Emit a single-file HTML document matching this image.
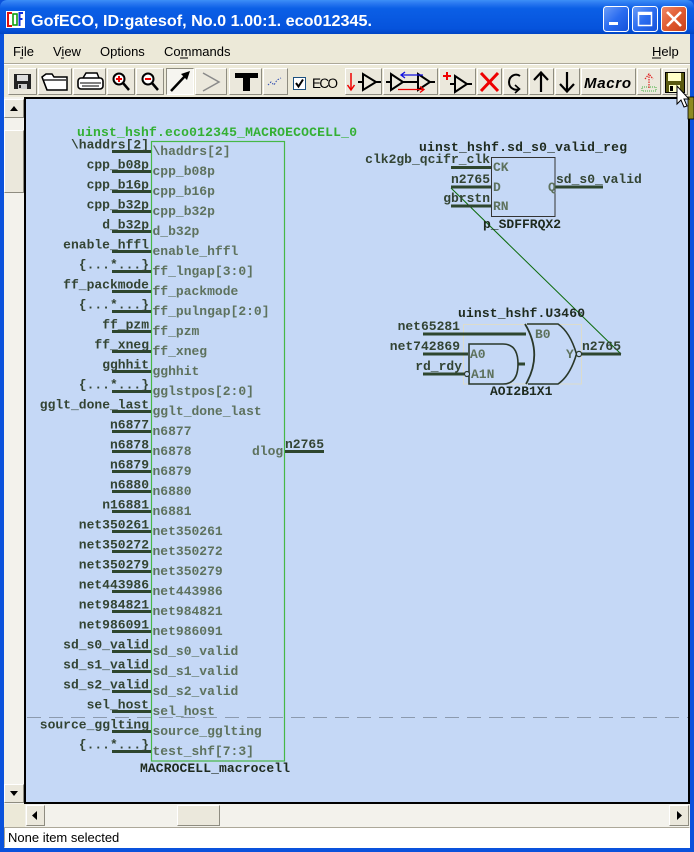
<!DOCTYPE html>
<html><head><meta charset="utf-8"><title>GofECO</title>
<style>
html,body{margin:0;padding:0;background:#ece9d8;}
svg{display:block;}
.mono{font-family:"Liberation Mono","DejaVu Sans Mono",monospace;font-weight:bold;font-size:13px;}
.out{fill:#334433;}
.in{fill:#5e725e;}
.ui{font-family:"Liberation Sans","DejaVu Sans",sans-serif;}
</style></head>
<body>
<svg width="694" height="852" viewBox="0 0 694 852" xmlns="http://www.w3.org/2000/svg">
<defs>
<linearGradient id="tb" x1="0" y1="0" x2="0" y2="1">
<stop offset="0" stop-color="#3d8ff7"/><stop offset="0.1" stop-color="#2a78f0"/><stop offset="0.25" stop-color="#0b5fe6"/><stop offset="0.85" stop-color="#0653dc"/><stop offset="1" stop-color="#0044c4"/>
</linearGradient>
<linearGradient id="bb" x1="0" y1="0" x2="1" y2="1">
<stop offset="0" stop-color="#6d9ff8"/><stop offset="0.5" stop-color="#2a6cf0"/><stop offset="1" stop-color="#1450d8"/>
</linearGradient>
<linearGradient id="rb" x1="0" y1="0" x2="1" y2="1">
<stop offset="0" stop-color="#f08a6a"/><stop offset="0.5" stop-color="#e05a30"/><stop offset="1" stop-color="#c8401c"/>
</linearGradient>
</defs>

<!-- window frame -->
<rect x="0" y="0" width="694" height="852" fill="#0a52dc"/>
<rect x="4" y="34" width="686" height="814" fill="#ece9d8"/>
<!-- title bar -->
<path d="M0,8 Q0,0 8,0 H686 Q694,0 694,8 V34 H0 Z" fill="url(#tb)"/>
<!-- app icon -->
<rect x="6" y="11" width="19" height="17" fill="#fff"/>
<path d="M12,13 H8 V26 H12" stroke="#e01010" stroke-width="2" fill="none"/>
<rect x="13" y="14" width="4" height="11" fill="none" stroke="#10a010" stroke-width="1.6"/>
<path d="M23,13 H19.5 V26 M19.5,19 H22.5" stroke="#1030e0" stroke-width="2" fill="none"/>
<text x="31" y="26" class="ui" font-size="15.5" font-weight="bold" fill="#fff" textLength="341" lengthAdjust="spacingAndGlyphs">GofECO, ID:gatesof, No.0 1.00:1. eco012345.</text>
<!-- title buttons -->
<rect x="603.5" y="6.5" width="25" height="25" rx="3" fill="url(#bb)" stroke="#fff" stroke-width="1"/>
<rect x="609" y="22" width="9" height="3" fill="#fff"/>
<rect x="632.5" y="6.5" width="25" height="25" rx="3" fill="url(#bb)" stroke="#fff" stroke-width="1"/>
<rect x="638.5" y="12.5" width="13" height="13" fill="none" stroke="#fff" stroke-width="1.5"/>
<rect x="638" y="12" width="14" height="3" fill="#fff"/>
<rect x="661.5" y="6.5" width="25" height="25" rx="3" fill="url(#rb)" stroke="#fff" stroke-width="1"/>
<path d="M667,12 L681,26 M681,12 L667,26" stroke="#fff" stroke-width="2.6"/>

<!-- menu -->
<g class="ui" font-size="13" fill="#000">
<text x="13" y="56">File</text>
<text x="53" y="56">View</text>
<text x="100" y="56">Options</text>
<text x="164" y="56">Commands</text>
<text x="652" y="56">Help</text>
</g>
<path d="M20,58 H23 M61,58 H64 M180,58 H188 M652,58 H661" stroke="#000" stroke-width="1"/>
<path d="M4,63.5 H690" stroke="#aca899"/>
<path d="M4,64.5 H690" stroke="#fff"/>

<!-- toolbar buttons -->
<g>
<!-- generic bevel buttons -->
<g fill="#ebe8dc">
<rect x="8" y="68" width="29" height="27"/><rect x="38" y="68" width="34" height="27"/><rect x="73" y="68" width="33" height="27"/>
<rect x="107" y="68" width="28" height="27"/><rect x="136" y="68" width="28" height="27"/><rect x="195" y="68" width="32" height="27"/>
<rect x="229" y="68" width="33" height="27"/><rect x="263" y="68" width="25" height="27"/>
<rect x="345" y="68" width="37" height="27"/><rect x="383" y="68" width="55" height="27"/><rect x="439" y="68" width="37" height="27"/>
<rect x="477" y="68" width="25" height="27"/><rect x="503" y="68" width="25" height="27"/><rect x="529" y="68" width="25" height="27"/>
<rect x="555" y="68" width="25" height="27"/><rect x="581" y="68" width="55" height="27"/><rect x="637" y="68" width="24" height="27"/>
<rect x="662" y="68" width="26" height="27"/>
</g>
<rect x="166" y="68" width="28" height="27" fill="#f6f5f0"/>
<g fill="none" stroke="#fff" stroke-width="1">
<path d="M8.5,94.5 V68.5 H36.5 M38.5,94.5 V68.5 H71.5 M73.5,94.5 V68.5 H105.5 M107.5,94.5 V68.5 H134.5 M136.5,94.5 V68.5 H163.5 M195.5,94.5 V68.5 H226.5 M229.5,94.5 V68.5 H261.5 M263.5,94.5 V68.5 H287.5"/>
<path d="M345.5,94.5 V68.5 H381.5 M383.5,94.5 V68.5 H437.5 M439.5,94.5 V68.5 H475.5 M477.5,94.5 V68.5 H501.5 M503.5,94.5 V68.5 H527.5 M529.5,94.5 V68.5 H553.5 M555.5,94.5 V68.5 H579.5 M581.5,94.5 V68.5 H635.5 M637.5,94.5 V68.5 H660.5 M662.5,94.5 V68.5 H687.5"/>
<path d="M166.5,94.5 H193.5 V68.5" />
</g>
<g fill="none" stroke="#8e8c80" stroke-width="1">
<path d="M8.5,94.5 H36.5 V68.5 M38.5,94.5 H71.5 V68.5 M73.5,94.5 H105.5 V68.5 M107.5,94.5 H134.5 V68.5 M136.5,94.5 H163.5 V68.5 M195.5,94.5 H226.5 V68.5 M229.5,94.5 H261.5 V68.5 M263.5,94.5 H287.5 V68.5"/>
<path d="M345.5,94.5 H381.5 V68.5 M383.5,94.5 H437.5 V68.5 M439.5,94.5 H475.5 V68.5 M477.5,94.5 H501.5 V68.5 M503.5,94.5 H527.5 V68.5 M529.5,94.5 H553.5 V68.5 M555.5,94.5 H579.5 V68.5 M581.5,94.5 H635.5 V68.5 M637.5,94.5 H660.5 V68.5 M662.5,94.5 H687.5 V68.5"/>
<path d="M166.5,94.5 V68.5 H193.5"/>
</g>

<!-- icons -->
<!-- save -->
<rect x="14" y="74" width="17" height="15" fill="#222"/>
<rect x="17" y="75" width="11" height="6" fill="#ddd"/>
<rect x="18" y="84" width="9" height="5" fill="#ccc"/>
<rect x="19" y="85" width="2" height="3" fill="#222"/>
<!-- open -->
<path d="M42,77 L46,74 H52 L54,77 H67 V90 H47 Z" fill="#fff" stroke="#000" stroke-width="1.5"/>
<path d="M42,77 L47,90 M44,80 H66" stroke="#000" stroke-width="1.3" fill="none"/>
<!-- print -->
<path d="M83,78 L86,73 H97 L99,78" fill="#fff" stroke="#000" stroke-width="1.5"/>
<rect x="78" y="78" width="25" height="11" rx="3" fill="#fff" stroke="#000" stroke-width="1.6"/>
<path d="M80,83 H101 M82,86 H99" stroke="#000" stroke-width="1"/>
<!-- zoom in -->
<circle cx="119" cy="79" r="5.5" fill="#fff" stroke="#000" stroke-width="2"/>
<path d="M116,79 H122 M119,76 V82" stroke="#e00" stroke-width="2"/>
<path d="M123,83 L129,90" stroke="#000" stroke-width="2.5"/>
<!-- zoom out -->
<circle cx="148" cy="79" r="5.5" fill="#fff" stroke="#000" stroke-width="2"/>
<path d="M145,79 H151" stroke="#e00" stroke-width="2"/>
<path d="M152,83 L158,90" stroke="#000" stroke-width="2.5"/>
<!-- arrow -->
<path d="M171,91 L186,75" stroke="#000" stroke-width="2.5"/>
<path d="M190,71 L181,74 L187,80 Z" fill="#000"/>
<!-- > -->
<path d="M203,73 L219,82 L203,91" fill="none" stroke="#8a8a8a" stroke-width="1.5"/>
<!-- T -->
<rect x="235" y="73" width="23" height="5" fill="#000"/>
<rect x="243" y="73" width="7" height="18" fill="#000"/>
<!-- small dotted -->
<path d="M268,85 L271,82 L274,85 L277,80 L281,78" stroke="#2a4ab0" stroke-width="1" stroke-dasharray="1.5 1.5" fill="none"/>
<!-- checkbox -->
<rect x="293.5" y="77.5" width="12" height="12" fill="#fff" stroke="#1c5180"/>
<path d="M296,83 L298.5,86.5 L303,79.5" stroke="#000" stroke-width="2" fill="none"/>
<text x="312" y="88" class="ui" font-size="13.5" fill="#000" textLength="26">ECO</text>

<!-- right icon set -->
<path d="M351,73 V89" stroke="#e00" stroke-width="1.5"/>
<path d="M347.5,85 L351,90 L354.5,85" stroke="#e00" stroke-width="1.5" fill="none"/>
<path d="M358,82 H363 M363,74 V90 L376,82 Z M376,82 H381" stroke="#000" stroke-width="2" fill="none"/>

<path d="M386,82 H391 M391,74 V90 L403,82 Z M403,82 H418 M418,74 V90 L430,82 Z M430,82 H435" stroke="#000" stroke-width="2" fill="none"/>
<path d="M423,75 H401 M405,72 L401,75 L405,78" stroke="#1010e0" stroke-width="1.3" fill="none"/>
<path d="M398,89.5 H424 M420,86.5 L424,89.5 L420,92.5" stroke="#e00" stroke-width="1.3" fill="none"/>

<path d="M443,76 H451 M447,72 V80" stroke="#e00" stroke-width="2"/>
<path d="M450,84 H455 M455,76 V92 L467,84 Z M467,84 H472" stroke="#000" stroke-width="2" fill="none"/>

<path d="M481,73 L498,91 M498,73 L481,91" stroke="#ee0000" stroke-width="3"/>

<path d="M520,76 A7,7.5 0 1 0 519,89" stroke="#000" stroke-width="2" fill="none"/>
<path d="M515,85 L519.5,89 L515,93" stroke="#000" stroke-width="1.6" fill="none"/>

<path d="M541,73 V92 M534,80 L541,72.5 L548,80" stroke="#000" stroke-width="2.2" fill="none"/>
<path d="M567,72 V91 M560,84 L567,91.5 L574,84" stroke="#000" stroke-width="2.2" fill="none"/>

<text x="584" y="88" class="ui" font-size="15" font-weight="bold" font-style="italic" fill="#000" textLength="47">Macro</text>

<path d="M642,87 H656 V91 H642 Z" fill="none" stroke="#40b040" stroke-width="1" stroke-dasharray="1 1"/>
<path d="M649,88 V75 M645,79 L649,74 L653,79" stroke="#e02020" stroke-width="1.2" stroke-dasharray="1.5 1" fill="none"/>

<rect x="665.5" y="72.5" width="19" height="20" fill="#5a5a10" stroke="#000"/>
<rect x="668" y="73" width="13" height="8" fill="#ffffc8"/>
<rect x="669" y="85" width="11" height="7" fill="#ffffc8"/>
<rect x="670" y="86" width="3" height="5" fill="#000"/>
</g>

<!-- canvas frame -->
<rect x="24" y="97" width="666" height="707" fill="#000"/>
<rect x="26" y="99" width="662" height="703" fill="#c5d8f6"/>

<!-- vertical scrollbar -->
<rect x="4" y="97" width="20" height="708" fill="#f3f2ec"/>
<rect x="4" y="99" width="20" height="19" fill="#ebe8dc"/>
<path d="M4.5,117.5 V99.5 H23.5" stroke="#fff" fill="none"/>
<path d="M4.5,117.5 H23.5 V99.5" stroke="#8e8c80" fill="none"/>
<path d="M10,111 L14,106 L18,111 Z" fill="#000"/>
<rect x="4" y="130" width="20" height="63" fill="#ebe8dc"/>
<path d="M4.5,192.5 V130.5 H23.5" stroke="#fff" fill="none"/>
<path d="M4.5,192.5 H23.5 V130.5" stroke="#8e8c80" fill="none"/>
<rect x="4" y="784" width="20" height="19" fill="#ebe8dc"/>
<path d="M4.5,802.5 V784.5 H23.5" stroke="#fff" fill="none"/>
<path d="M4.5,802.5 H23.5 V784.5" stroke="#8e8c80" fill="none"/>
<path d="M10,791 L14,796 L18,791 Z" fill="#000"/>

<!-- horizontal scrollbar -->
<rect x="4" y="804" width="686" height="23" fill="#f3f2ec"/>
<rect x="4" y="804" width="21" height="23" fill="#ece9d8"/>
<rect x="26" y="805" width="19" height="21" fill="#ebe8dc"/>
<path d="M26.5,825.5 V805.5 H44.5" stroke="#fff" fill="none"/>
<path d="M26.5,825.5 H44.5 V805.5" stroke="#8e8c80" fill="none"/>
<path d="M37,811 L32,815.5 L37,820 Z" fill="#000"/>
<rect x="177" y="805" width="43" height="21" fill="#ebe8dc"/>
<path d="M177.5,825.5 V805.5 H219.5" stroke="#fff" fill="none"/>
<path d="M177.5,825.5 H219.5 V805.5" stroke="#8e8c80" fill="none"/>
<rect x="669" y="805" width="20" height="21" fill="#ebe8dc"/>
<path d="M669.5,825.5 V805.5 H688.5" stroke="#fff" fill="none"/>
<path d="M669.5,825.5 H688.5 V805.5" stroke="#8e8c80" fill="none"/>
<path d="M677,811 L682,815.5 L677,820 Z" fill="#000"/>

<!-- status bar -->
<rect x="4" y="827" width="686" height="21" fill="#fff"/>
<path d="M4.5,847.5 V827.5 H689.5" stroke="#aca899" fill="none"/>
<text x="8" y="842" class="ui" font-size="13" fill="#000">None item selected</text>

<!-- ================= schematic ================= -->
<g>
<!-- dashed line -->
<path d="M27,717.5 H688" stroke="#8c9aae" stroke-width="1" stroke-dasharray="14 8"/>

<!-- macro box -->
<rect x="151.5" y="141.5" width="133" height="619.5" fill="none" stroke="#46b846" stroke-width="1.2"/>
<text x="77" y="136" class="mono" fill="#33b033" textLength="280">uinst_hshf.eco012345_MACROECOCELL_0</text>

<!-- pin lines -->
<path stroke="#2e462e" stroke-width="3" fill="none" d="
M112,151.5 H151 M112,171.5 H151 M112,191.5 H151 M112,211.5 H151 M112,231.5 H151 M112,251.5 H151 M112,271.5 H151 M112,291.5 H151
M112,311.5 H151 M112,331.5 H151 M112,351.5 H151 M112,371.5 H151 M112,391.5 H151 M112,411.5 H151 M112,431.5 H151 M112,451.5 H151
M112,471.5 H151 M112,491.5 H151 M112,511.5 H151 M112,531.5 H151 M112,551.5 H151 M112,571.5 H151 M112,591.5 H151 M112,611.5 H151
M112,631.5 H151 M112,651.5 H151 M112,671.5 H151 M112,691.5 H151 M112,711.5 H151 M112,731.5 H151 M112,751.5 H151
M285,451.5 H324"/>

<g class="mono out" text-anchor="end">
<text x="149" y="148.5">\haddrs[2]</text>
<text x="149" y="168.5">cpp_b08p</text>
<text x="149" y="188.5">cpp_b16p</text>
<text x="149" y="208.5">cpp_b32p</text>
<text x="149" y="228.5">d_b32p</text>
<text x="149" y="248.5">enable_hffl</text>
<text x="149" y="268.5">{...*...}</text>
<text x="149" y="288.5">ff_packmode</text>
<text x="149" y="308.5">{...*...}</text>
<text x="149" y="328.5">ff_pzm</text>
<text x="149" y="348.5">ff_xneg</text>
<text x="149" y="368.5">gghhit</text>
<text x="149" y="388.5">{...*...}</text>
<text x="149" y="408.5">gglt_done_last</text>
<text x="149" y="428.5">n6877</text>
<text x="149" y="448.5">n6878</text>
<text x="149" y="468.5">n6879</text>
<text x="149" y="488.5">n6880</text>
<text x="149" y="508.5">n16881</text>
<text x="149" y="528.5">net350261</text>
<text x="149" y="548.5">net350272</text>
<text x="149" y="568.5">net350279</text>
<text x="149" y="588.5">net443986</text>
<text x="149" y="608.5">net984821</text>
<text x="149" y="628.5">net986091</text>
<text x="149" y="648.5">sd_s0_valid</text>
<text x="149" y="668.5">sd_s1_valid</text>
<text x="149" y="688.5">sd_s2_valid</text>
<text x="149" y="708.5">sel_host</text>
<text x="149" y="728.5">source_gglting</text>
<text x="149" y="748.5">{...*...}</text>
</g>
<g class="mono in">
<text x="152.5" y="155">\haddrs[2]</text>
<text x="152.5" y="175">cpp_b08p</text>
<text x="152.5" y="195">cpp_b16p</text>
<text x="152.5" y="215">cpp_b32p</text>
<text x="152.5" y="235">d_b32p</text>
<text x="152.5" y="255">enable_hffl</text>
<text x="152.5" y="275">ff_lngap[3:0]</text>
<text x="152.5" y="295">ff_packmode</text>
<text x="152.5" y="315">ff_pulngap[2:0]</text>
<text x="152.5" y="335">ff_pzm</text>
<text x="152.5" y="355">ff_xneg</text>
<text x="152.5" y="375">gghhit</text>
<text x="152.5" y="395">gglstpos[2:0]</text>
<text x="152.5" y="415">gglt_done_last</text>
<text x="152.5" y="435">n6877</text>
<text x="152.5" y="455">n6878</text>
<text x="152.5" y="475">n6879</text>
<text x="152.5" y="495">n6880</text>
<text x="152.5" y="515">n6881</text>
<text x="152.5" y="535">net350261</text>
<text x="152.5" y="555">net350272</text>
<text x="152.5" y="575">net350279</text>
<text x="152.5" y="595">net443986</text>
<text x="152.5" y="615">net984821</text>
<text x="152.5" y="635">net986091</text>
<text x="152.5" y="655">sd_s0_valid</text>
<text x="152.5" y="675">sd_s1_valid</text>
<text x="152.5" y="695">sd_s2_valid</text>
<text x="152.5" y="715">sel_host</text>
<text x="152.5" y="735">source_gglting</text>
<text x="152.5" y="755">test_shf[7:3]</text>
<text x="252" y="455">dlog</text>
</g>
<text x="285" y="448" class="mono out">n2765</text>
<text x="140" y="772" class="mono" fill="#1e2a1e" textLength="150">MACROCELL_macrocell</text>

<!-- connector diagonal -->
<path d="M451,188 L621,354" stroke="#0b6b0b" stroke-width="1" fill="none"/>

<!-- flip-flop -->
<text x="419" y="151" class="mono" fill="#1e2a1e" textLength="208">uinst_hshf.sd_s0_valid_reg</text>
<rect x="491.5" y="157.5" width="63.5" height="59" fill="none" stroke="#333" stroke-width="1"/>
<path stroke="#2e462e" stroke-width="3" fill="none" d="M451,167.5 H491 M451,187 H491 M451,206 H491 M555,187 H603"/>
<g class="mono out">
<text x="490" y="163" text-anchor="end">clk2gb_qcifr_clk</text>
<text x="490" y="183" text-anchor="end">n2765</text>
<text x="490" y="202" text-anchor="end">gbrstn</text>
<text x="556" y="183">sd_s0_valid</text>
</g>
<g class="mono in">
<text x="493" y="171">CK</text>
<text x="493" y="191">D</text>
<text x="493" y="210">RN</text>
<text x="548" y="191">Q</text>
</g>
<text x="483" y="228" class="mono" fill="#1e2a1e">p_SDFFRQX2</text>

<!-- AOI gate -->
<text x="458" y="317" class="mono" fill="#1e2a1e" textLength="127">uinst_hshf.U3460</text>
<rect x="463.5" y="324.5" width="118" height="59.5" fill="none" stroke="#dcdccc" stroke-width="1"/>
<path stroke="#2e462e" stroke-width="3" fill="none" d="M423,334 H526 M423,354 H468 M423,374 H464 M518,364 H525 M582,354 H621"/>
<path d="M469,344 H503 Q518,344 518,364 Q518,384 503,384 H469 Z" fill="none" stroke="#2a382a" stroke-width="1.6"/>
<path d="M525,324 Q543,354 526,384" fill="none" stroke="#2a382a" stroke-width="1.8"/>
<path d="M527,324 H558 Q570,332 576.5,354 Q570,376 558,384 H528" fill="none" stroke="#2a382a" stroke-width="1.6"/>
<circle cx="467" cy="374" r="2.5" fill="#c5d8f6" stroke="#2a382a" stroke-width="1.2"/>
<circle cx="579" cy="354" r="2.6" fill="#c5d8f6" stroke="#2a382a" stroke-width="1.2"/>
<g class="mono out">
<text x="460" y="330" text-anchor="end">net65281</text>
<text x="460" y="350" text-anchor="end">net742869</text>
<text x="462" y="370" text-anchor="end">rd_rdy</text>
<text x="582" y="350">n2765</text>
</g>
<g class="mono in">
<text x="535" y="338">B0</text>
<text x="470" y="358">A0</text>
<text x="471" y="378">A1N</text>
<text x="566" y="358">Y</text>
</g>
<text x="490" y="395" class="mono" fill="#1e2a1e">AOI2B1X1</text>
</g>

<!-- cursor & olive artifact -->
<rect x="688" y="97" width="6" height="22" fill="#8e8a22" stroke="#000" stroke-width="0.8"/>
<path d="M677,86 L677,104 L681,100 L684,107 L687,106 L684,99 L689,99 Z" fill="#fff" stroke="#000" stroke-width="1"/>
</svg>
</body></html>
